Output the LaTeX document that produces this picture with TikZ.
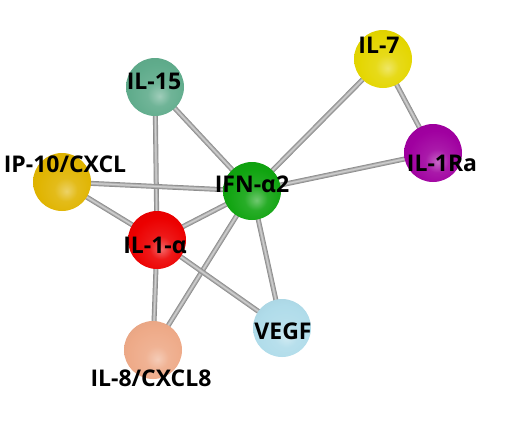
\documentclass[tikz,border=0pt]{standalone}
\usepackage{fontspec}
\setmainfont{Open Sans}
\makeatletter
\pgfdeclareradialshading[tikz@ball]{softball}{\pgfpoint{4bp}{-8bp}}{%
  color(0bp)=(tikz@ball!60!white);
  color(10bp)=(tikz@ball!90!white);
  color(24bp)=(tikz@ball);
  color(40bp)=(tikz@ball!94!black);
  color(60bp)=(tikz@ball!82!black)}
\makeatother
\definecolor{cIL15}{RGB}{96,172,140}
\definecolor{cIL7}{RGB}{228,214,0}
\definecolor{cIL1Ra}{RGB}{160,0,160}
\definecolor{cIP10}{RGB}{224,180,0}
\definecolor{cIFN}{RGB}{16,164,16}
\definecolor{cIL1a}{RGB}{236,0,0}
\definecolor{cVEGF}{RGB}{176,220,234}
\definecolor{cIL8}{RGB}{238,170,136}
\tikzset{
  ball/.style={circle, minimum size=58bp, inner sep=0pt, ball color=#1, shading=softball},
  lbl/.style={anchor=base, inner sep=0pt, font=\bfseries\fontsize{23bp}{25bp}\selectfont, text=black},
  edgeA/.style={line width=5bp, color=black!45},
  edgeB/.style={line width=3.6bp, color=black!36},
  edgeC/.style={line width=2.2bp, color=black!27},
  edgeD/.style={line width=0.9bp, color=black!19}
}
\begin{document}
\begin{tikzpicture}[x=1bp,y=-1bp]
\useasboundingbox (0,0) rectangle (530,422);
% node positions
\coordinate (pIL15) at (155,87);
\coordinate (pIL7) at (383,59);
\coordinate (pIL1Ra) at (433,153);
\coordinate (pIP10) at (62,182);
\coordinate (pIFN) at (252,191);
\coordinate (pIL1a) at (157,240);
\coordinate (pVEGF) at (282,328);
\coordinate (pIL8) at (153,350);
% edges
\foreach \a/\b in {pIL15/pIL1a, pIL15/pIFN, pIL7/pIFN, pIL7/pIL1Ra, pIL1Ra/pIFN,
  pIP10/pIFN, pIP10/pIL1a, pIFN/pIL1a, pIFN/pVEGF, pIFN/pIL8, pIL1a/pIL8, pIL1a/pVEGF}{
  \draw[edgeA] (\a) -- (\b);
  \draw[edgeB] (\a) -- (\b);
  \draw[edgeC] (\a) -- (\b);
  \draw[edgeD] (\a) -- (\b);
}
% balls
\node[ball=cIL15] (IL15) at (pIL15) {};
\node[ball=cIL7] (IL7) at (pIL7) {};
\node[ball=cIL1Ra] (IL1Ra) at (pIL1Ra) {};
\node[ball=cIP10] (IP10) at (pIP10) {};
\node[ball=cIFN] (IFN) at (pIFN) {};
\node[ball=cIL1a] (IL1a) at (pIL1a) {};
\node[ball=cVEGF] (VEGF) at (pVEGF) {};
\node[ball=cIL8] (IL8) at (pIL8) {};
% labels
\node[lbl] (tIL15) at (154,89) {IL-15};
\node[lbl] (tIL7) at (379,53) {IL-7};
\node[lbl] (tIL1Ra) at (442,171) {IL-1Ra};
\node[lbl] (tIP10) at (65,172) {IP-10/CXCL};
\node[lbl] (tIFN) at (252,192) {IFN-α2};
\node[lbl] (tIL1a) at (155,253) {IL-1-α};
\node[lbl] (tVEGF) at (283,339) {VEGF};
\node[lbl] (tIL8) at (151,386) {IL-8/CXCL8};
\end{tikzpicture}
\end{document}
